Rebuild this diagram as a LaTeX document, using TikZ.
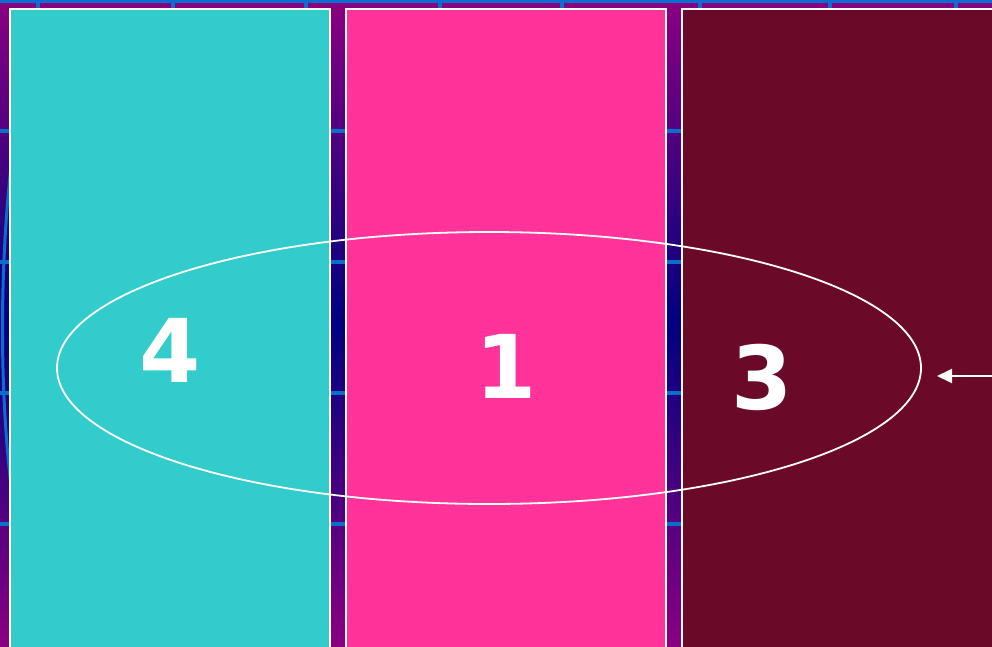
\documentclass[tikz,border=0pt]{standalone}
\usepackage{fontspec}
\newfontfamily\digitfont{DejaVu Sans}
\usetikzlibrary{arrows.meta}
\definecolor{bgpurple}{HTML}{8A0080}
\definecolor{bgnavy}{HTML}{000080}
\definecolor{gridblue}{HTML}{0A6ED0}
\definecolor{cyanbox}{HTML}{33CCCC}
\definecolor{pinkbox}{HTML}{FF3399}
\definecolor{maroonbox}{HTML}{6B0A28}
\tikzset{
  panel/.style={draw=white, line width=2pt},
  gridline/.style={draw=gridblue, line width=3.5pt},
  bignum/.style={text=white, inner sep=0pt, font=\digitfont\bfseries\fontsize{88}{88}\selectfont},
}
\begin{document}
\begin{tikzpicture}[x=1pt,y=-1pt]
\useasboundingbox (0,0) rectangle (992,646);
\clip (0,0) rectangle (992,646);
% background gradient
\shade[top color=bgpurple, bottom color=bgpurple, middle color=bgnavy] (0,0) rectangle (992,646);
% grid
\foreach \yy in {1,131,262,393,524} \draw[gridline] (0,\yy) -- (992,\yy);
\foreach \xx in {38,173,306,440,562,700,830,956} \draw[gridline] (\xx,0) -- (\xx,660);
% faint arc at left
\draw[draw=gridblue, line width=3pt] (13,150) .. controls (-1,260) and (-1,400) .. (13,500);
% panels
\node[panel, fill=cyanbox, minimum width=320pt, minimum height=660pt, anchor=north west, inner sep=0pt] (p4) at (9,8) {};
\node[panel, fill=pinkbox, minimum width=320pt, minimum height=660pt, anchor=north west, inner sep=0pt] (p1) at (345,8) {};
\node[panel, fill=maroonbox, minimum width=330pt, minimum height=660pt, anchor=north west, inner sep=0pt] (p3) at (681,8) {};
% ellipse
\draw[white, line width=1.8pt] (489,368) ellipse [x radius=432, y radius=136];
% numbers
\node[bignum] (n4) at (170,350) {4};
\node[bignum] (n1) at (506,366) {1};
\node[bignum] (n3) at (762,377) {3};
% arrow
\coordinate (astart) at (993,376);
\coordinate (aend) at (937,376);
\draw[white, line width=2pt, -{Triangle[length=15pt,width=14pt]}] (astart) -- (aend);
\end{tikzpicture}
\end{document}
